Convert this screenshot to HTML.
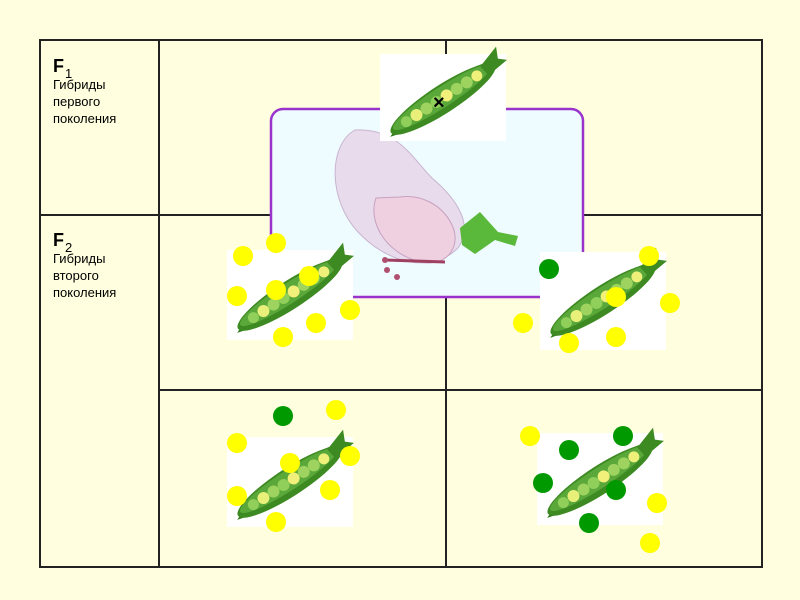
<!DOCTYPE html>
<html><head><meta charset="utf-8"><style>
body{margin:0;background:#ffffe0;}
svg{display:block}
text{font-family:"Liberation Sans",Arial,sans-serif;fill:#000}
</style></head><body>
<svg width="800" height="600" viewBox="0 0 800 600" xmlns="http://www.w3.org/2000/svg">
<defs>
<g id="pod">
<g transform="rotate(-33 63 45)">
<path d="M-2 48 Q60 22 128 40 Q62 66 -2 48Z" fill="#2f7a1a"/>
<ellipse cx="63" cy="45" rx="62" ry="14" fill="#3d8a22"/>
<ellipse cx="63" cy="43" rx="58" ry="10" fill="#5aa83a"/>
<circle cx="20" cy="44" r="5.5" fill="#8fcf5a"/>
<circle cx="32" cy="44" r="6" fill="#e8f07a"/>
<circle cx="44" cy="44" r="6" fill="#9ed360"/>
<circle cx="56" cy="44" r="6" fill="#8fcf5a"/>
<circle cx="68" cy="44" r="6" fill="#f0f07a"/>
<circle cx="80" cy="44" r="6" fill="#9ed360"/>
<circle cx="92" cy="44" r="6" fill="#9ed360"/>
<circle cx="104" cy="44" r="5.5" fill="#eef07a"/>
<path d="M112 38 L136 30 L131 41 L138 47 L114 50Z" fill="#3d8a22"/>
</g>
</g>
</defs>
<rect width="800" height="600" fill="#ffffe0"/>
<g stroke="#222" stroke-width="2" fill="none">
<rect x="40" y="40" width="722" height="527"/>
<line x1="159" y1="40" x2="159" y2="567"/>
<line x1="446" y1="40" x2="446" y2="567"/>
<line x1="40" y1="215" x2="762" y2="215"/>
<line x1="159" y1="390" x2="762" y2="390"/>
</g>
<text x="53" y="72" font-size="18" font-weight="bold">F</text>
<text x="65" y="78" font-size="13">1</text>
<text x="53" y="89" font-size="13">Гибриды</text>
<text x="53" y="106" font-size="13">первого</text>
<text x="53" y="123" font-size="13">поколения</text>
<text x="53" y="246" font-size="18" font-weight="bold">F</text>
<text x="65" y="252" font-size="13">2</text>
<text x="53" y="263" font-size="13">Гибриды</text>
<text x="53" y="280" font-size="13">второго</text>
<text x="53" y="297" font-size="13">поколения</text>
<rect x="271" y="109" width="312" height="188" rx="12" fill="#effcff" stroke="#9933cc" stroke-width="2.5"/>
<path d="M355 130 C328 145 328 200 358 232 C388 264 432 274 458 248 C474 226 458 200 432 178 C412 158 398 128 355 130Z" fill="#e8dcec" stroke="#c8b4d0"/>
<path d="M376 198 C368 220 383 252 420 262 C447 268 462 246 452 225 C442 204 420 194 400 197Z" fill="#eed0e0" stroke="#c8a0c0"/>
<path d="M460 228 L480 212 L498 232 L518 236 L515 246 L495 240 L475 254 L462 245Z" fill="#5ab83a"/>
<line x1="385" y1="260" x2="445" y2="262" stroke="#a04060" stroke-width="3"/>
<circle cx="385" cy="260" r="3" fill="#b05070"/><circle cx="387" cy="270" r="3" fill="#b05070"/><circle cx="397" cy="277" r="3" fill="#b05070"/>
<rect x="380" y="54" width="126" height="87" fill="#fff"/>
<use href="#pod" x="380" y="54"/>
<text x="433" y="109" font-size="20" font-weight="bold">×</text>
<rect x="227" y="250" width="126" height="90" fill="#fff"/>
<use href="#pod" x="227" y="250"/>
<rect x="540" y="252" width="126" height="98" fill="#fff"/>
<use href="#pod" x="540" y="255"/>
<rect x="227" y="437" width="126" height="90" fill="#fff"/>
<use href="#pod" x="227" y="437"/>
<rect x="537" y="433" width="126" height="92" fill="#fff"/>
<use href="#pod" x="537" y="435"/>
<g fill="#ffff00">
<circle cx="243" cy="256" r="10"/><circle cx="276" cy="243" r="10"/><circle cx="237" cy="296" r="10"/><circle cx="276" cy="290" r="10"/><circle cx="309" cy="276" r="10"/><circle cx="316" cy="323" r="10"/><circle cx="350" cy="310" r="10"/><circle cx="283" cy="337" r="10"/>
<circle cx="649" cy="256" r="10"/><circle cx="670" cy="303" r="10"/><circle cx="616" cy="297" r="10"/><circle cx="523" cy="323" r="10"/><circle cx="569" cy="343" r="10"/><circle cx="616" cy="337" r="10"/>
<circle cx="336" cy="410" r="10"/><circle cx="237" cy="443" r="10"/><circle cx="290" cy="463" r="10"/><circle cx="350" cy="456" r="10"/><circle cx="330" cy="490" r="10"/><circle cx="237" cy="496" r="10"/><circle cx="276" cy="522" r="10"/>
<circle cx="530" cy="436" r="10"/><circle cx="657" cy="503" r="10"/><circle cx="650" cy="543" r="10"/>
</g>
<g fill="#009900">
<circle cx="549" cy="269" r="10"/><circle cx="283" cy="416" r="10"/>
<circle cx="569" cy="450" r="10"/><circle cx="623" cy="436" r="10"/><circle cx="543" cy="483" r="10"/><circle cx="616" cy="490" r="10"/><circle cx="589" cy="523" r="10"/>
</g>
</svg>
</body></html>
